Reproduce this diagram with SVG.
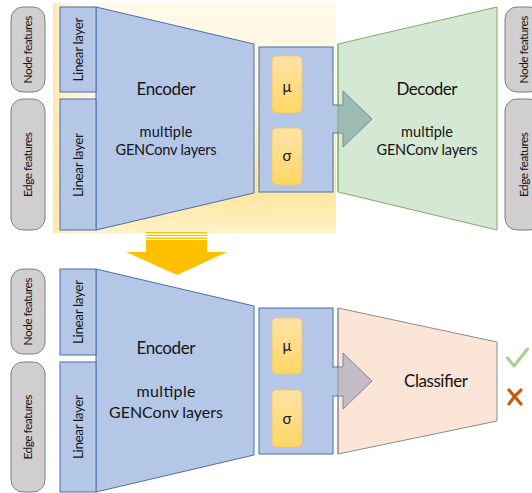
<svg xmlns="http://www.w3.org/2000/svg" width="532" height="493" viewBox="0 0 532 493">
<defs>
<linearGradient id="glow" x1="0" y1="0" x2="0" y2="1">
<stop offset="0" stop-color="#fffaea"/>
<stop offset="0.45" stop-color="#fff6d8"/>
<stop offset="0.8" stop-color="#ffe497"/>
<stop offset="1" stop-color="#fff2c8"/>
</linearGradient>
<linearGradient id="glowL" x1="0" y1="0" x2="1" y2="0">
<stop offset="0" stop-color="#ffe9a8" stop-opacity="0.9"/>
<stop offset="0.08" stop-color="#ffe9a8" stop-opacity="0"/>
</linearGradient>
<linearGradient id="lat" x1="0" y1="0" x2="0" y2="1">
<stop offset="0" stop-color="#ffe3a6"/>
<stop offset="1" stop-color="#ffd666"/>
</linearGradient>
<style>
.pill{fill:#d0cece;stroke:#7f7f7f;stroke-width:1}
.blue{fill:#b4c7e7;stroke:#4a6eae;stroke-width:1}
.bl{fill:none;stroke:#4a6eae;stroke-width:1}
.lat{fill:url(#lat);stroke:#f2c466;stroke-width:0.8}
.t{font-family:Lato,"Liberation Sans",sans-serif;fill:#141414;text-anchor:middle}
.side{font-size:12px}
.lin{font-size:13.5px}
.big{font-size:17px}
.sub{font-size:14.5px}
.sub2{font-size:16px}
.gr{font-size:17px}
.gk{font-size:15px}
</style>
</defs>

<!-- highlight background -->
<g id="highlight">
<rect x="53" y="3" width="283" height="230" fill="url(#glow)"/>
<rect x="53" y="3" width="283" height="230" fill="url(#glowL)"/>
</g>

<!-- transfer arrow -->
<g id="transfer-arrow" fill="#ffc000">
<rect x="146" y="232" width="61" height="1.3"/>
<rect x="146" y="234.8" width="61" height="1.3"/>
<rect x="146" y="237.4" width="61" height="1.5"/>
<polygon points="146,240 207,240 207,252 227,252 177,275 126,252 146,252"/>
</g>

<!-- TOP PANEL -->
<g id="top-node-features">
<rect class="pill" x="11" y="7" width="34" height="85" rx="12"/>
<text class="t side" transform="translate(32,49.5) rotate(-90)" textLength="68">Node features</text>
</g>
<g id="top-edge-features">
<rect class="pill" x="11" y="99" width="34" height="131" rx="12"/>
<text class="t side" transform="translate(32,164.5) rotate(-90)" textLength="65">Edge features</text>
</g>
<g id="top-encoder">
<polygon class="blue" points="96,7 254,44 254,193 96,230"/>
<text class="t big" x="166" y="95" textLength="59">Encoder</text>
<text class="t sub" x="166" y="137" textLength="53">multiple</text>
<text class="t sub" x="166" y="155" textLength="101">GENConv layers</text>
</g>
<g id="top-linear-node">
<rect class="blue" x="60" y="7" width="36" height="85"/>
<text class="t lin" transform="translate(82.5,49.5) rotate(-90)" textLength="64">Linear layer</text>
</g>
<g id="top-linear-edge">
<rect class="blue" x="60" y="99" width="36" height="131"/>
<text class="t lin" transform="translate(82.5,165) rotate(-90)" textLength="64">Linear layer</text>
</g>
<g id="decoder">
<polygon points="338,44 497,7 497,230 338,192" fill="#d5e8d4" stroke="#7fae5f" stroke-width="1"/>
<text class="t big" x="427" y="95" textLength="61">Decoder</text>
<text class="t sub" x="427" y="137" textLength="52">multiple</text>
<text class="t sub" x="427" y="155" textLength="101">GENConv layers</text>
</g>
<g id="top-right-node-features">
<rect class="pill" x="505" y="7" width="36" height="85" rx="12"/>
<text class="t side" transform="translate(527.5,49.5) rotate(-90)" textLength="68">Node features</text>
</g>
<g id="top-right-edge-features">
<rect class="pill" x="505" y="99" width="36" height="131" rx="12"/>
<text class="t side" transform="translate(527.5,164.5) rotate(-90)" textLength="65">Edge features</text>
</g>

<!-- BOTTOM PANEL -->
<g id="bottom-node-features">
<rect class="pill" x="11" y="269" width="34" height="85" rx="12"/>
<text class="t side" transform="translate(32,311.5) rotate(-90)" textLength="68">Node features</text>
</g>
<g id="bottom-edge-features">
<rect class="pill" x="11" y="362" width="34" height="130" rx="12"/>
<text class="t side" transform="translate(32,427) rotate(-90)" textLength="65">Edge features</text>
</g>
<g id="bottom-encoder">
<polygon class="blue" points="96,269 254,306 254,455 96,492"/>
<text class="t big" x="166" y="354" textLength="59">Encoder</text>
<text class="t sub2" x="166" y="397" textLength="59">multiple</text>
<text class="t sub2" x="166" y="418" textLength="114">GENConv layers</text>
</g>
<g id="bottom-linear-node">
<rect class="blue" x="60" y="269" width="36" height="86"/>
<text class="t lin" transform="translate(82.5,312) rotate(-90)" textLength="64">Linear layer</text>
</g>
<g id="bottom-linear-edge">
<rect class="blue" x="60" y="362" width="36" height="130"/>
<text class="t lin" transform="translate(82.5,427) rotate(-90)" textLength="64">Linear layer</text>
</g>
<g id="classifier">
<polygon points="338,308 497,342 497,421 338,454" fill="#fbe5d6" stroke="#8c8c8c" stroke-width="1"/>
<text class="t gr" x="436" y="387" textLength="64">Classifier</text>
</g>
<g id="result">
<path d="M507.5,358 L514,366 L527.5,349" fill="none" stroke="#a9d18e" stroke-width="3" stroke-linecap="round" stroke-linejoin="round"/>
<path d="M509,390 L521,404 M521,390 Q514,396 509,404" fill="none" stroke="#c55a11" stroke-width="3.2" stroke-linecap="round"/>
</g>

<!-- connectors: block arrows out of the latent blocks -->
<g id="connectors">
<polygon points="337,105 343,105 343,91 372,119 343,147 343,133 337,133" fill="#9dbbb3" stroke="#6b8f9c" stroke-width="1"/>
<line x1="338" y1="44" x2="338" y2="192" stroke="#7fae5f" stroke-width="1"/>
<polygon points="337,367 343,367 343,353 372,381 343,409 343,396 337,396" fill="#c3bcc7" stroke="#7f86a3" stroke-width="1"/>
<line x1="338" y1="308" x2="338" y2="454" stroke="#8c8c8c" stroke-width="1"/>
</g>

<g id="top-latent">
<rect class="blue" x="259" y="47" width="74" height="145"/>
<rect x="332" y="105.5" width="5.5" height="27" fill="#b4c7e7"/>
<path class="bl" d="M333,105 H338 M333,133 H338"/>
<rect class="lat" x="272" y="56" width="30" height="57" rx="5"/>
<text class="t gk" x="287" y="92">μ</text>
<rect class="lat" x="272" y="128" width="30" height="57" rx="5"/>
<text class="t gk" x="287" y="161">σ</text>
</g>
<g id="bottom-latent">
<rect class="blue" x="259" y="308" width="74" height="146"/>
<rect x="332" y="367.5" width="5.5" height="28" fill="#b4c7e7"/>
<path class="bl" d="M333,367 H338 M333,396 H338"/>
<rect class="lat" x="272" y="318" width="30" height="56" rx="5"/>
<text class="t gk" x="287" y="351">μ</text>
<rect class="lat" x="272" y="390" width="30" height="57" rx="5"/>
<text class="t gk" x="287" y="424">σ</text>
</g>
</svg>
